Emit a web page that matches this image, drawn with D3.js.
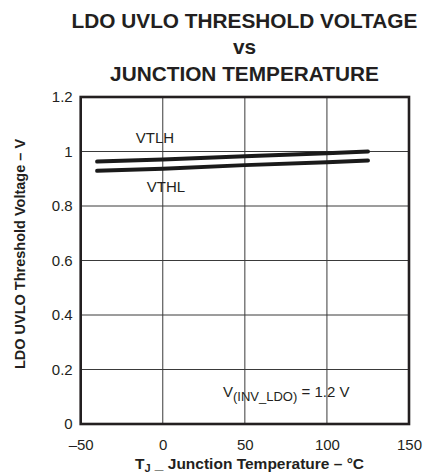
<!DOCTYPE html>
<html>
<head>
<meta charset="utf-8">
<script src="https://cdn.jsdelivr.net/npm/d3@7"></script>
<style>
  html, body { margin: 0; padding: 0; background: #fff; }
  svg { display: block; font-family: "Liberation Sans", Arial, Helvetica, sans-serif; }
</style>
</head>
<body>
<svg id="chart" width="435" height="474"></svg>
<script>
// ---- data ----
const titleLines = ["LDO UVLO THRESHOLD VOLTAGE", "vs", "JUNCTION TEMPERATURE"];
const temperatures = [-40, 0, 50, 100, 125];
const vtlh = [0.963, 0.971, 0.983, 0.994, 1.000];
const vthl = [0.929, 0.937, 0.950, 0.961, 0.967];
const xTicks = [-50, 0, 50, 100, 150];
const yTicks = [0, 0.2, 0.4, 0.6, 0.8, 1, 1.2];
const seriesLabels = ["VTLH", "VTHL"];

(function () {
// ---- layout ----
const svg = d3.select("#chart");
const pLeft = 80.7, pRight = 409, pTop = 97, pBottom = 424;
const x = d3.scaleLinear().domain([-50, 150]).range([pLeft, pRight]);
const y = d3.scaleLinear().domain([0, 1.2]).range([pBottom, pTop]);

// title
const titleY = [27.5, 54, 80.5];
svg.selectAll("text.title").data(titleLines).join("text")
  .attr("class", "title")
  .attr("x", 244.5).attr("y", (d, i) => titleY[i])
  .attr("text-anchor", "middle")
  .attr("font-weight", "bold").attr("font-size", 20.8)
  .attr("fill", "#231f20")
  .text(d => d);

// grid
const grid = svg.append("g");
grid.selectAll("line.vx").data(xTicks.slice(1, -1)).join("line")
  .attr("x1", d => x(d)).attr("x2", d => x(d))
  .attr("y1", pTop).attr("y2", pBottom)
  .attr("stroke", "#3a3a3a").attr("stroke-width", 1);
grid.selectAll("line.hy").data(yTicks.slice(1, -1)).join("line")
  .attr("x1", pLeft).attr("x2", pRight)
  .attr("y1", d => y(d)).attr("y2", d => y(d))
  .attr("stroke", "#3a3a3a").attr("stroke-width", 1);

// axes (labels via d3 axes)
const xAxis = d3.axisBottom(x).tickValues(xTicks).tickSize(0).tickPadding(15)
  .tickFormat(d => d < 0 ? "\u2013" + Math.abs(d) : String(d));
const gx = svg.append("g").attr("transform", `translate(0,${pBottom})`).call(xAxis);
gx.select(".domain").remove();
gx.selectAll("text").attr("font-size", 15).attr("fill", "#231f20")
  .attr("font-family", "Liberation Sans, Arial, sans-serif");

const yAxis = d3.axisLeft(y).tickValues(yTicks).tickSize(0).tickPadding(8)
  .tickFormat(d => String(+d.toFixed(1)));
const gy = svg.append("g").attr("transform", `translate(${pLeft},0)`).call(yAxis);
gy.select(".domain").remove();
gy.selectAll("text").attr("font-size", 15).attr("fill", "#231f20")
  .attr("font-family", "Liberation Sans, Arial, sans-serif");

// series lines
const line = d3.line().x(d => x(d[0])).y(d => y(d[1]));
[vtlh, vthl].forEach(vals => {
  svg.append("path")
    .datum(temperatures.map((t, i) => [t, vals[i]]))
    .attr("d", line)
    .attr("fill", "none").attr("stroke", "#1a1a1a")
    .attr("stroke-width", 4).attr("stroke-linecap", "round");
});

// frame
svg.append("rect")
  .attr("x", pLeft).attr("y", pTop)
  .attr("width", pRight - pLeft).attr("height", pBottom - pTop)
  .attr("fill", "none").attr("stroke", "#231f20").attr("stroke-width", 2.6);

// series labels
svg.append("text").attr("x", 155).attr("y", 143).attr("text-anchor", "middle")
  .attr("font-size", 15).attr("fill", "#231f20").text(seriesLabels[0]);
svg.append("text").attr("x", 166).attr("y", 191.5).attr("text-anchor", "middle")
  .attr("font-size", 15).attr("fill", "#231f20").text(seriesLabels[1]);

// condition annotation
const cond = svg.append("text").attr("x", 223).attr("y", 397)
  .attr("font-size", 15).attr("fill", "#231f20");
cond.append("tspan").text("V");
cond.append("tspan").attr("font-size", 13).attr("dy", 4).text("(INV_LDO)");
cond.append("tspan").attr("dy", -4).text(" = 1.2 V");

// y label
svg.append("text")
  .attr("transform", "translate(25,254) rotate(-90)")
  .attr("text-anchor", "middle")
  .attr("font-weight", "bold").attr("font-size", 14.5).attr("fill", "#231f20")
  .text("LDO UVLO Threshold Voltage \u2013 V");

// x label
const xl = svg.append("text").attr("x", 249.5).attr("y", 468.5)
  .attr("text-anchor", "middle")
  .attr("font-weight", "bold").attr("font-size", 15.5).attr("fill", "#231f20");
xl.append("tspan").text("T");
xl.append("tspan").attr("font-size", 11).attr("dy", 3).text("J");
xl.append("tspan").attr("dy", -3).text(" _ Junction Temperature \u2013 \u00B0C");
})();
</script>
</body>
</html>
